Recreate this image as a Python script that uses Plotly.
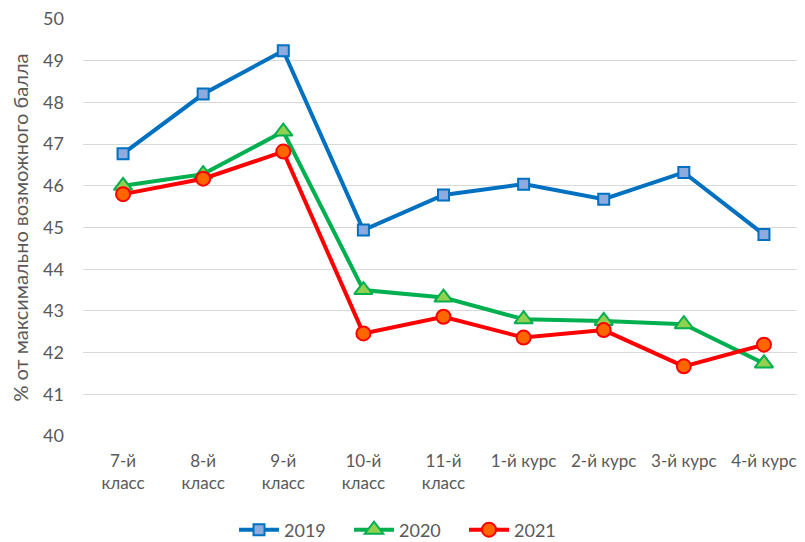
import plotly.graph_objects as go

categories = ["7-й<br>класс", "8-й<br>класс", "9-й<br>класс", "10-й<br>класс", "11-й<br>класс",
              "1-й курс", "2-й курс", "3-й курс", "4-й курс"]
v2019 = [46.77, 48.20, 49.24, 44.94, 45.78, 46.04, 45.68, 46.32, 44.83]
v2020 = [46.00, 46.28, 47.30, 43.50, 43.32, 42.80, 42.76, 42.68, 41.74]
v2021 = [45.80, 46.17, 46.82, 42.46, 42.86, 42.36, 42.54, 41.67, 42.19]
y_ticks = [40, 41, 42, 43, 44, 45, 46, 47, 48, 49, 50]

FONT = "Lato, 'Open Sans', sans-serif"
GREY = "#595959"
W, H = 797, 534

fig = go.Figure()
fig.add_trace(go.Scatter(
    x=categories, y=v2019, name="2019", mode="lines+markers",
    line=dict(color="#0070C0", width=4),
    marker=dict(symbol="square", size=11, color="#8FAADC", line=dict(color="#0070C0", width=2)),
))
fig.add_trace(go.Scatter(
    x=categories, y=v2020, name="2020", mode="lines+markers",
    line=dict(color="#00B050", width=4),
    marker=dict(symbol="triangle-up", size=16, color="#92D050", line=dict(color="#00B050", width=2)),
))
fig.add_trace(go.Scatter(
    x=categories, y=v2021, name="2021", mode="lines+markers",
    line=dict(color="#FF0000", width=4),
    marker=dict(symbol="circle", size=14, color="#FF6600", line=dict(color="#FF0000", width=2)),
))

fig.update_layout(
    width=W, height=H,
    margin=dict(l=75, r=1, t=11, b=106, autoexpand=False),
    paper_bgcolor="white", plot_bgcolor="white",
    font=dict(family=FONT, color=GREY),
    showlegend=True,
    legend=dict(orientation="h", x=0.5, xref="container", xanchor="center",
                y=1 - 522 / H, yref="container", yanchor="middle",
                font=dict(size=18, color=GREY, family=FONT),
                entrywidth=60, entrywidthmode="pixels", itemwidth=40,
                traceorder="normal"),
)
fig.update_xaxes(
    showgrid=False, showline=False, zeroline=False, ticks="", automargin=False,
    tickfont=dict(size=17, color=GREY, family=FONT),
    ticklabelstandoff=13,
    range=[-0.5, 8.5],
)
fig.update_yaxes(
    range=[40, 50], tickvals=y_ticks, showgrid=True, gridcolor="#D9D9D9", gridwidth=1,
    zeroline=False, showline=False, ticks="", automargin=False,
    tickfont=dict(size=18, color=GREY, family=FONT),
    ticklabelstandoff=18, ticklabeloverflow="allow",
    title=dict(text="% от максимально возможного балла", font=dict(size=20, color=GREY, family=FONT),
               standoff=10),
)

fig.write_html("out.html")
